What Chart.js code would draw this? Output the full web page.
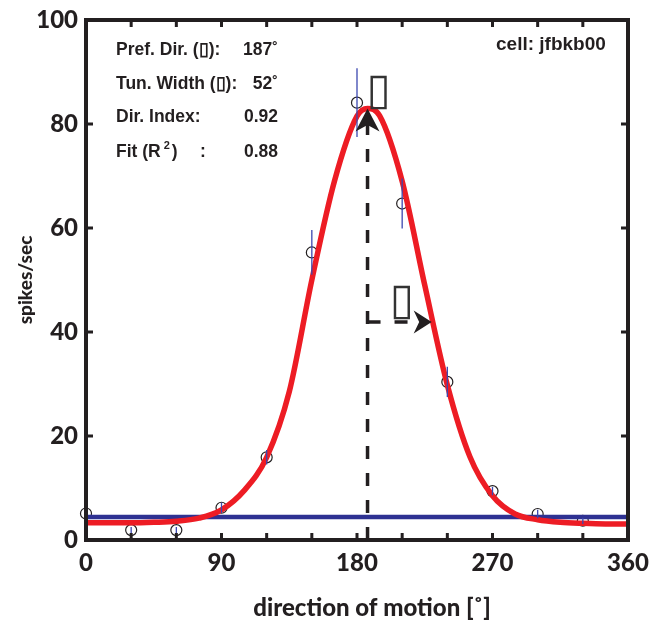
<!DOCTYPE html>
<html>
<head>
<meta charset="utf-8">
<script src="https://cdn.jsdelivr.net/npm/chart.js@4.4.0/dist/chart.umd.min.js"></script>
<style>
  html, body { margin: 0; padding: 0; background: #fff; }
</style>
</head>
<body>
<canvas id="tuning" width="650" height="624"></canvas>
<script>
// measured responses (mean +- error) per direction
const directions = [0, 30, 60, 90, 120, 150, 180, 210, 240, 270, 300, 330];
const rates = [5.1, 1.9, 1.9, 6.2, 15.9, 55.3, 84.1, 64.7, 30.4, 9.4, 5.0, 3.7];
const rateErrors = [0.5, 0.6, 0.6, 1.0, 1.4, 4.3, 6.6, 4.8, 2.9, 0.8, 0.8, 0.6];

// fitted tuning curve
const fitDirections = [0, 15, 30, 45, 60, 75, 90, 105, 120, 135, 150, 165, 180, 187, 195, 210, 225, 240, 255, 270, 285, 300, 315, 330, 345, 360];
const fitRates = [3.3, 3.3, 3.3, 3.4, 3.6, 4.2, 5.8, 9.5, 15.9, 28.5, 50, 69, 81.5, 83, 81.6, 69, 49, 29.8, 16, 8.5, 5.0, 3.9, 3.4, 3.2, 3.1, 3.1];

// spontaneous rate
const baseDirections = [0, 360];
const baseRates = [4.4, 4.4];

const xTickValues = [0, 30, 60, 90, 120, 150, 180, 210, 240, 270, 300, 330, 360];
const xTickLabels = ['0', '90', '180', '270', '360'];
const yTickValues = [0, 20, 40, 60, 80, 100];

// annotations
const statNames = ['Pref. Dir. (\u25AF):', 'Tun. Width (\u25AF):', 'Dir. Index:', 'Fit (R'];
const statValues = ['187\u02DA', '52\u02DA', '0.92', '0.88'];
const cellName = 'cell: jfbkb00';
const xTitle = 'direction of motion [\u02DA]';
const prefDir = 187;
const peakRate = 83;
const widthEnd = 229.6;
const widthRate = 41.9;

const ink = '#231f20';
const red = '#ed1c24';
const navy = '#2e3192';
const tickFont = { family: 'Lato', size: 24, weight: '900' };

function arrowHead(ctx, tx, ty, dx, dy, len, halfW, notch) {
  const px = -dy, py = dx;
  ctx.beginPath();
  ctx.moveTo(tx, ty);
  ctx.lineTo(tx - dx * len + px * halfW, ty - dy * len + py * halfW);
  ctx.lineTo(tx - dx * notch, ty - dy * notch);
  ctx.lineTo(tx - dx * len - px * halfW, ty - dy * len - py * halfW);
  ctx.closePath();
  ctx.fill();
}

const errorBars = {
  id: 'errorBars',
  afterDatasetsDraw(chart) {
    const { ctx, scales: { x, y } } = chart;
    ctx.save();
    ctx.strokeStyle = '#3b47b0';
    ctx.lineWidth = 1.3;
    directions.forEach((d, i) => {
      const px = x.getPixelForValue(d);
      ctx.beginPath();
      ctx.moveTo(px, y.getPixelForValue(rates[i] - rateErrors[i]));
      ctx.lineTo(px, y.getPixelForValue(rates[i] + rateErrors[i]));
      ctx.stroke();
    });
    ctx.restore();
  }
};

const frame = {
  id: 'frame',
  afterDatasetsDraw(chart) {
    const { ctx, chartArea: a, scales: { x, y } } = chart;
    ctx.save();
    ctx.strokeStyle = ink;
    ctx.lineWidth = 4;
    ctx.strokeRect(a.left, a.top, a.right - a.left, a.bottom - a.top);
    ctx.lineWidth = 3;
    ctx.beginPath();
    x.ticks.forEach(t => {
      if (t.value <= x.min || t.value >= x.max) return;
      const px = x.getPixelForValue(t.value);
      ctx.moveTo(px, a.bottom); ctx.lineTo(px, a.bottom - 7);
      ctx.moveTo(px, a.top); ctx.lineTo(px, a.top + 7);
    });
    y.ticks.forEach(t => {
      if (t.value <= y.min || t.value >= y.max) return;
      const py = y.getPixelForValue(t.value);
      ctx.moveTo(a.left, py); ctx.lineTo(a.left + 7, py);
      ctx.moveTo(a.right, py); ctx.lineTo(a.right - 7, py);
    });
    ctx.stroke();
    ctx.restore();
  }
};

const notes = {
  id: 'notes',
  afterDraw(chart) {
    const { ctx, chartArea: a, scales: { x, y } } = chart;
    ctx.save();
    ctx.strokeStyle = ink;
    ctx.fillStyle = ink;

    // preferred direction arrow
    const pdx = x.getPixelForValue(prefDir);
    const tipY = y.getPixelForValue(peakRate);
    ctx.lineWidth = 3.5;
    ctx.setLineDash([13, 14]);
    ctx.beginPath();
    ctx.moveTo(pdx, a.bottom);
    ctx.lineTo(pdx, tipY + 16);
    ctx.stroke();
    // tuning width arrow
    const wy = y.getPixelForValue(widthRate);
    const wx = x.getPixelForValue(widthEnd);
    ctx.beginPath();
    ctx.moveTo(pdx, wy);
    ctx.lineTo(wx - 12, wy);
    ctx.stroke();
    ctx.setLineDash([]);
    arrowHead(ctx, pdx, tipY, 0, -1, 23, 12, 16.5);
    arrowHead(ctx, wx, wy, 1, 0, 18, 11.5, 12.5);

    ctx.fillStyle = '#333';
    ctx.font = '44px "DejaVu Sans"';
    ctx.textBaseline = 'alphabetic';
    ctx.textAlign = 'left';
    ctx.fillText('\u25AF', pdx - 1, tipY - 4);
    ctx.fillText('\u25AF', wx - 42, wy - 8);

    // fit statistics
    ctx.fillStyle = ink;
    const sx = a.left + 30;
    const base = [55, 88.5, 122, 156.5];
    ctx.font = 'bold 17.5px "Liberation Sans"';
    statNames.forEach((s, i) => {
      ctx.textAlign = 'left';
      ctx.fillText(s, sx, base[i]);
      ctx.textAlign = 'right';
      ctx.fillText(statValues[i], 278, base[i]);
    });
    ctx.textAlign = 'left';
    const rw = ctx.measureText(statNames[3]).width;
    ctx.font = 'bold 11px "Liberation Sans"';
    ctx.fillText('2', sx + rw + 3, base[3] - 8);
    ctx.font = 'bold 17.5px "Liberation Sans"';
    ctx.fillText(')', sx + rw + 11, base[3]);
    ctx.fillText(':', 200, base[3]);

    ctx.font = 'bold 19px "Liberation Sans"';
    ctx.fillText(cellName, 496, 50);

    // x axis title, set a little right of centre as in the figure
    ctx.font = '900 24px Lato';
    ctx.textAlign = 'center';
    ctx.textBaseline = 'middle';
    ctx.fillText(xTitle, (a.left + a.right) / 2 + 15, 608);
    ctx.restore();
  }
};

new Chart(document.getElementById('tuning'), {
  type: 'scatter',
  data: {
    datasets: [
      {
        type: 'line',
        data: fitDirections.map((d, i) => ({ x: d, y: fitRates[i] })),
        borderColor: red,
        borderWidth: 5.5,
        pointRadius: 0,
        cubicInterpolationMode: 'monotone',
        fill: false
      },
      {
        type: 'line',
        data: baseDirections.map((d, i) => ({ x: d, y: baseRates[i] })),
        borderColor: navy,
        borderWidth: 4.5,
        pointRadius: 0,
        fill: false
      },
      {
        data: directions.map((d, i) => ({ x: d, y: rates[i] })),
        showLine: false,
        pointRadius: 5.5,
        pointBorderWidth: 1.2,
        pointBorderColor: ink,
        pointBackgroundColor: 'rgba(0,0,0,0)',
        clip: false
      }
    ]
  },
  options: {
    responsive: false,
    animation: false,
    events: [],
    layout: { padding: { top: 20, right: 22, left: 0, bottom: 0 } },
    plugins: { legend: { display: false }, tooltip: { enabled: false } },
    scales: {
      x: {
        type: 'linear',
        min: 0,
        max: 360,
        afterBuildTicks: s => { s.ticks = xTickValues.map(v => ({ value: v })); },
        afterFit: s => { s.height = 84; s.paddingLeft = 0; s.paddingRight = 0; },
        grid: { display: false, drawTicks: false },
        border: { display: false },
        ticks: {
          autoSkip: false,
          maxRotation: 0,
          padding: 9,
          color: ink,
          font: tickFont,
          callback: v => xTickLabels.includes(String(v)) ? String(v) : ''
        }
      },
      y: {
        min: 0,
        max: 100,
        afterBuildTicks: s => { s.ticks = yTickValues.map(v => ({ value: v })); },
        afterFit: s => { s.width = 86; s.paddingTop = 0; s.paddingBottom = 0; },
        grid: { display: false, drawTicks: false },
        border: { display: false },
        ticks: { padding: 8, color: ink, font: tickFont },
        title: {
          display: true,
          text: 'spikes/sec',
          color: ink,
          font: { family: 'Lato', size: 19, weight: '900' },
          padding: { top: 14, bottom: 0 }
        }
      }
    }
  },
  plugins: [errorBars, frame, notes]
});
</script>
</body>
</html>
